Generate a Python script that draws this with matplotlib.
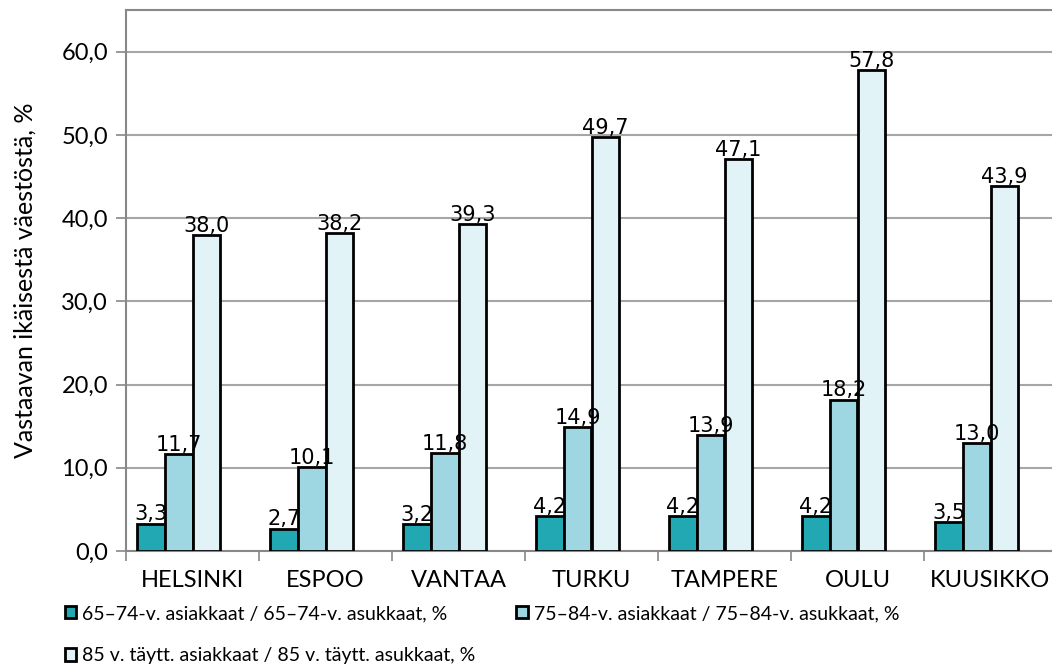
import matplotlib.pyplot as plt
import numpy as np
from matplotlib.ticker import FixedLocator, NullFormatter

plt.rcParams['font.family'] = ['Lato', 'DejaVu Sans']

# kaupungit ja sarjat
cities = ['HELSINKI', 'ESPOO', 'VANTAA', 'TURKU', 'TAMPERE', 'OULU', 'KUUSIKKO']
s65 = [3.3, 2.7, 3.2, 4.2, 4.2, 4.2, 3.5]
s75 = [11.7, 10.1, 11.8, 14.9, 13.9, 18.2, 13.0]
s85 = [38.0, 38.2, 39.3, 49.7, 47.1, 57.8, 43.9]
labels = ['65–74-v. asiakkaat / 65–74-v. asukkaat, %',
          '75–84-v. asiakkaat / 75–84-v. asukkaat, %',
          '85 v. täytt. asiakkaat / 85 v. täytt. asukkaat, %']
colors = ['#21A8B2', '#9ED6E1', '#E2F3F8']
yticks = [0, 10, 20, 30, 40, 50, 60]

fig = plt.figure(figsize=(10.52, 6.68), dpi=100)
ax = fig.add_axes([126 / 1052, 1 - 551 / 668, 931 / 1052, 541 / 668])

x = np.arange(len(cities))
w = 0.21
# Excelissä neljäs (tyhjä) sarja siirtää ryhmää vasemmalle
offsets = [-1.5 * w, -0.5 * w, 0.5 * w]
bars = []
for vals, off, col, lab in zip([s65, s75, s85], offsets, colors, labels):
    b = ax.bar(x + off, vals, w, color=col, edgecolor='black', linewidth=2,
               label=lab, zorder=3)
    bars.append(b)
    for xi, v in zip(x + off, vals):
        ax.annotate(f'{v:.1f}'.replace('.', ','), (xi, v), xytext=(0, 2.2),
                    textcoords='offset points', ha='center', va='baseline',
                    fontsize=15, family='DejaVu Sans', zorder=4)

ax.set_xlim(-0.5, 6.5)
ax.set_ylim(0, 65)
ax.set_yticks(yticks)
ax.set_yticklabels([f'{t:.1f}'.replace('.', ',') for t in yticks], fontsize=17)
ax.set_xticks(x)
ax.set_xticklabels(cities, fontsize=17)
ax.xaxis.set_minor_locator(FixedLocator(np.arange(-0.5, 7, 1)))
ax.xaxis.set_minor_formatter(NullFormatter())
ax.tick_params(axis='x', which='major', length=0, pad=14)
ax.tick_params(axis='x', which='minor', length=7, width=1.2, color='#888888')
ax.tick_params(axis='y', length=7, width=1.2, color='#888888', pad=6)

ax.grid(axis='y', color='#A6A6A6', linewidth=1.5, zorder=0)
for s in ['left', 'bottom', 'top']:
    ax.spines[s].set_color('#888888')
    ax.spines[s].set_linewidth(1.5)
ax.spines['right'].set_visible(False)

ax.set_ylabel('Vastaavan ikäisestä väestöstä, %', fontsize=18)
ax.yaxis.set_label_coords(-89 / 931, 0.5)

h = [bars[0], bars[2], bars[1]]
l = [labels[0], labels[2], labels[1]]
fig.legend(h, l, ncol=2, loc='upper left', bbox_to_anchor=(0.054, 0.106),
           frameon=False, fontsize=14, handlelength=0.6, handleheight=0.6,
           handletextpad=0.3, columnspacing=2.1, labelspacing=1.3,
           borderaxespad=0)

fig.savefig('out.png', dpi=100)
